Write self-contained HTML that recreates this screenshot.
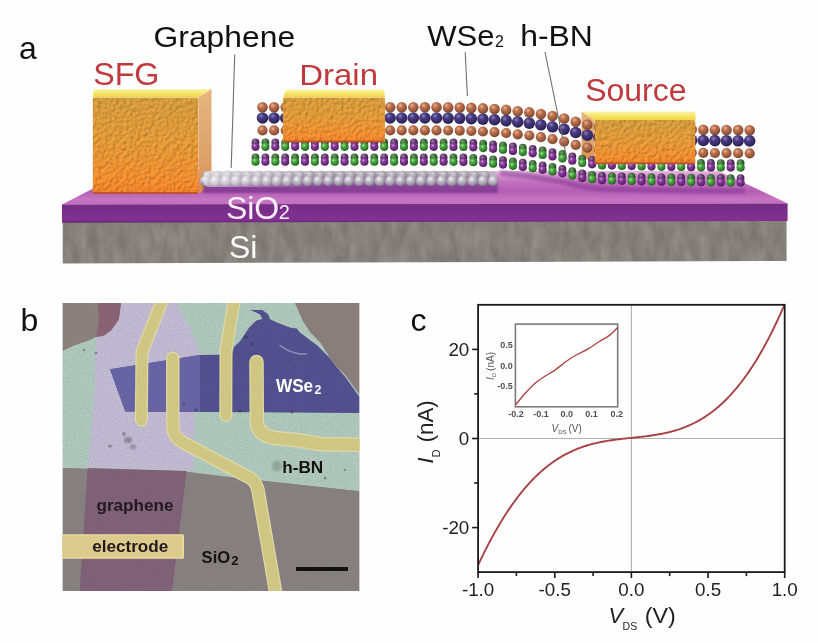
<!DOCTYPE html>
<html><head><meta charset="utf-8"><title>Figure</title>
<style>html,body{margin:0;padding:0;background:#fefefe;} svg{display:block;}</style>
</head><body>
<svg width="818" height="643" viewBox="0 0 818 643">

<defs>
 <radialGradient id="gSe" cx="0.38" cy="0.32" r="0.7">
   <stop offset="0" stop-color="#e8b496"/><stop offset="0.35" stop-color="#bc714e"/><stop offset="0.8" stop-color="#945438"/><stop offset="1" stop-color="#6c3e2a"/>
 </radialGradient>
 <radialGradient id="gSeB" cx="0.38" cy="0.32" r="0.7">
   <stop offset="0" stop-color="#d8a080"/><stop offset="0.4" stop-color="#a8603e"/><stop offset="1" stop-color="#6a3824"/>
 </radialGradient>
 <radialGradient id="gW" cx="0.38" cy="0.32" r="0.7">
   <stop offset="0" stop-color="#8a80bc"/><stop offset="0.35" stop-color="#463a80"/><stop offset="0.8" stop-color="#342864"/><stop offset="1" stop-color="#221842"/>
 </radialGradient>
 <radialGradient id="gWB" cx="0.38" cy="0.32" r="0.7">
   <stop offset="0" stop-color="#6a64a8"/><stop offset="0.5" stop-color="#3c3676"/><stop offset="1" stop-color="#221e48"/>
 </radialGradient>
 <radialGradient id="gG" cx="0.38" cy="0.32" r="0.7">
   <stop offset="0" stop-color="#a8e098"/><stop offset="0.35" stop-color="#4aa840"/><stop offset="0.8" stop-color="#2c7c2a"/><stop offset="1" stop-color="#1a501a"/>
 </radialGradient>
 <radialGradient id="gP" cx="0.38" cy="0.32" r="0.7">
   <stop offset="0" stop-color="#d098d8"/><stop offset="0.35" stop-color="#843a96"/><stop offset="0.8" stop-color="#622676"/><stop offset="1" stop-color="#42184e"/>
 </radialGradient>
 <radialGradient id="gGB" cx="0.38" cy="0.32" r="0.7">
   <stop offset="0" stop-color="#78a070"/><stop offset="0.45" stop-color="#3c7038"/><stop offset="1" stop-color="#1e3e1e"/>
 </radialGradient>
 <radialGradient id="gPB" cx="0.38" cy="0.32" r="0.7">
   <stop offset="0" stop-color="#a080a8"/><stop offset="0.45" stop-color="#62346e"/><stop offset="1" stop-color="#3a1a44"/>
 </radialGradient>
 <radialGradient id="gHB" cx="0.38" cy="0.32" r="0.7">
   <stop offset="0" stop-color="#b0a0b8"/><stop offset="0.5" stop-color="#6a5a74"/><stop offset="1" stop-color="#3e3046"/>
 </radialGradient>
 <radialGradient id="gC" cx="0.38" cy="0.3" r="0.72">
   <stop offset="0" stop-color="#f2f0f4"/><stop offset="0.4" stop-color="#c0bcc6"/><stop offset="0.85" stop-color="#908a9a"/><stop offset="1" stop-color="#6e667a"/>
 </radialGradient>
 <radialGradient id="gCB" cx="0.38" cy="0.3" r="0.72">
   <stop offset="0" stop-color="#d8d2dc"/><stop offset="0.5" stop-color="#aca6b2"/><stop offset="1" stop-color="#847c8c"/>
 </radialGradient>
 <linearGradient id="gWhL" x1="0" y1="0" x2="1" y2="0">
   <stop offset="0" stop-color="#ffffff" stop-opacity="0.5"/><stop offset="1" stop-color="#ffffff" stop-opacity="0"/>
 </linearGradient>
 <linearGradient id="gTop" x1="0" y1="0" x2="0" y2="1">
   <stop offset="0" stop-color="#e6bade"/><stop offset="0.12" stop-color="#d898d0"/><stop offset="0.3" stop-color="#c474be"/><stop offset="0.6" stop-color="#b45eb4"/><stop offset="0.85" stop-color="#c674c2"/><stop offset="1" stop-color="#c26cbe"/>
 </linearGradient>
 <linearGradient id="gFront" x1="0" y1="0" x2="0" y2="1">
   <stop offset="0" stop-color="#722c82"/><stop offset="0.15" stop-color="#762e86"/><stop offset="0.85" stop-color="#823093"/><stop offset="1" stop-color="#62246e"/>
 </linearGradient>
 <linearGradient id="gGold" x1="0" y1="0" x2="0" y2="1">
   <stop offset="0" stop-color="#d29a3e"/><stop offset="0.45" stop-color="#df9838"/><stop offset="0.85" stop-color="#ee8c30"/><stop offset="1" stop-color="#ec8028"/>
 </linearGradient>
 <linearGradient id="gGoldTop" x1="0" y1="0" x2="0" y2="1">
   <stop offset="0" stop-color="#fbf4ae"/><stop offset="0.5" stop-color="#f6e66a"/><stop offset="1" stop-color="#efd242"/>
 </linearGradient>
 <linearGradient id="gSide" x1="0" y1="0" x2="0" y2="1">
   <stop offset="0" stop-color="#e6b680"/><stop offset="0.7" stop-color="#dca06a"/><stop offset="1" stop-color="#e08a3a"/>
 </linearGradient>
 <filter id="fSi" color-interpolation-filters="sRGB" x="0" y="0" width="1" height="1">
   <feTurbulence type="fractalNoise" baseFrequency="0.1 0.04" numOctaves="3" seed="3" result="n"/>
   <feColorMatrix in="n" type="matrix" values="0.15 0 0 0 0.448  0.15 0 0 0 0.428  0.15 0 0 0 0.405  0 0 0 0 1" result="c"/>
   <feComposite in="c" in2="SourceGraphic" operator="atop"/>
 </filter>
 <filter id="fGold" color-interpolation-filters="sRGB" x="0" y="0" width="1" height="1">
   <feTurbulence type="fractalNoise" baseFrequency="0.28" numOctaves="2" seed="7" result="n"/>
   <feDiffuseLighting in="n" surfaceScale="1.8" lighting-color="#fff" result="l"><feDistantLight azimuth="225" elevation="55"/></feDiffuseLighting>
   <feComposite in="l" in2="SourceGraphic" operator="arithmetic" k1="0.38" k2="0" k3="0.7" k4="0" result="m"/>
   <feComposite in="m" in2="SourceGraphic" operator="in"/>
 </filter>
 <filter id="fSpeck" color-interpolation-filters="sRGB" x="0" y="0" width="1" height="1">
   <feTurbulence type="fractalNoise" baseFrequency="0.6" numOctaves="2" seed="11" result="n"/>
   <feColorMatrix in="n" type="matrix" values="0 0 0 0 0.45  0 0 0 0 0.45  0 0 0 0 0.45  0.5 0 0 0 -0.22" result="c"/>
   <feComposite in="c" in2="SourceGraphic" operator="atop"/>
 </filter>
 <filter id="blur1" color-interpolation-filters="sRGB"><feGaussianBlur stdDeviation="0.6"/></filter>
 <filter id="blur2" color-interpolation-filters="sRGB"><feGaussianBlur stdDeviation="1.2"/></filter>
</defs>

<rect width="818" height="643" fill="#fefefe"/>
<polygon points="62.7,222 786.6,220.3 786.6,261 62.7,263.4" fill="#88827c" filter="url(#fSi)"/>
<polygon points="62,204.2 787.6,203.2 787.6,221 62,222.7" fill="url(#gFront)"/>
<polygon points="62,204.5 127,171 719,171 787.8,203.5" fill="url(#gTop)"/>
<polygon points="92.6,97.5 198.5,97.5 211.5,89.0 94.1,89.0" fill="url(#gGoldTop)"/>
<polygon points="198.5,97.5 211.5,89.0 211.5,183.5 198.5,194" fill="url(#gSide)"/>
<polygon points="283,97.5 385,97.5 384,89.5 286,89.5" fill="url(#gGoldTop)"/>
<polygon points="594.5,120 581.5,111.5 581.5,155.8 594.5,164.3" fill="url(#gSide)"/>
<polygon points="203,184 498,184 498,193 203,193" fill="#6a2a82" filter="url(#blur2)" opacity="0.6"/>
<rect x="207" y="171.5" width="289" height="8" rx="4" fill="#bcb6c2"/>
<circle cx="207.0" cy="175.6" r="4.9" fill="url(#gCB)"/>
<circle cx="217.3" cy="175.6" r="4.9" fill="url(#gCB)"/>
<circle cx="227.6" cy="175.6" r="4.9" fill="url(#gCB)"/>
<circle cx="237.9" cy="175.6" r="4.9" fill="url(#gCB)"/>
<circle cx="248.2" cy="175.6" r="4.9" fill="url(#gCB)"/>
<circle cx="258.5" cy="175.6" r="4.9" fill="url(#gCB)"/>
<circle cx="268.8" cy="175.6" r="4.9" fill="url(#gCB)"/>
<circle cx="279.1" cy="175.6" r="4.9" fill="url(#gCB)"/>
<circle cx="289.4" cy="175.6" r="4.9" fill="url(#gCB)"/>
<circle cx="299.7" cy="175.6" r="4.9" fill="url(#gCB)"/>
<circle cx="310.0" cy="175.6" r="4.9" fill="url(#gCB)"/>
<circle cx="320.3" cy="175.6" r="4.9" fill="url(#gCB)"/>
<circle cx="330.6" cy="175.6" r="4.9" fill="url(#gCB)"/>
<circle cx="340.9" cy="175.6" r="4.9" fill="url(#gCB)"/>
<circle cx="351.2" cy="175.6" r="4.9" fill="url(#gCB)"/>
<circle cx="361.5" cy="175.6" r="4.9" fill="url(#gCB)"/>
<circle cx="371.8" cy="175.6" r="4.9" fill="url(#gCB)"/>
<circle cx="382.1" cy="175.6" r="4.9" fill="url(#gCB)"/>
<circle cx="392.4" cy="175.6" r="4.9" fill="url(#gCB)"/>
<circle cx="402.7" cy="175.6" r="4.9" fill="url(#gCB)"/>
<circle cx="413.0" cy="175.6" r="4.9" fill="url(#gCB)"/>
<circle cx="423.3" cy="175.6" r="4.9" fill="url(#gCB)"/>
<circle cx="433.6" cy="175.6" r="4.9" fill="url(#gCB)"/>
<circle cx="443.9" cy="175.6" r="4.9" fill="url(#gCB)"/>
<circle cx="454.2" cy="175.6" r="4.9" fill="url(#gCB)"/>
<circle cx="464.5" cy="175.6" r="4.9" fill="url(#gCB)"/>
<circle cx="474.8" cy="175.6" r="4.9" fill="url(#gCB)"/>
<circle cx="485.1" cy="175.6" r="4.9" fill="url(#gCB)"/>
<circle cx="205.0" cy="181.0" r="5.2" fill="url(#gC)"/>
<circle cx="215.3" cy="181.0" r="5.2" fill="url(#gC)"/>
<circle cx="225.6" cy="181.0" r="5.2" fill="url(#gC)"/>
<circle cx="235.9" cy="181.0" r="5.2" fill="url(#gC)"/>
<circle cx="246.2" cy="181.0" r="5.2" fill="url(#gC)"/>
<circle cx="256.5" cy="181.0" r="5.2" fill="url(#gC)"/>
<circle cx="266.8" cy="181.0" r="5.2" fill="url(#gC)"/>
<circle cx="277.1" cy="181.0" r="5.2" fill="url(#gC)"/>
<circle cx="287.4" cy="181.0" r="5.2" fill="url(#gC)"/>
<circle cx="297.7" cy="181.0" r="5.2" fill="url(#gC)"/>
<circle cx="308.0" cy="181.0" r="5.2" fill="url(#gC)"/>
<circle cx="318.3" cy="181.0" r="5.2" fill="url(#gC)"/>
<circle cx="328.6" cy="181.0" r="5.2" fill="url(#gC)"/>
<circle cx="338.9" cy="181.0" r="5.2" fill="url(#gC)"/>
<circle cx="349.2" cy="181.0" r="5.2" fill="url(#gC)"/>
<circle cx="359.5" cy="181.0" r="5.2" fill="url(#gC)"/>
<circle cx="369.8" cy="181.0" r="5.2" fill="url(#gC)"/>
<circle cx="380.1" cy="181.0" r="5.2" fill="url(#gC)"/>
<circle cx="390.4" cy="181.0" r="5.2" fill="url(#gC)"/>
<circle cx="400.7" cy="181.0" r="5.2" fill="url(#gC)"/>
<circle cx="411.0" cy="181.0" r="5.2" fill="url(#gC)"/>
<circle cx="421.3" cy="181.0" r="5.2" fill="url(#gC)"/>
<circle cx="431.6" cy="181.0" r="5.2" fill="url(#gC)"/>
<circle cx="441.9" cy="181.0" r="5.2" fill="url(#gC)"/>
<circle cx="452.2" cy="181.0" r="5.2" fill="url(#gC)"/>
<circle cx="462.5" cy="181.0" r="5.2" fill="url(#gC)"/>
<circle cx="472.8" cy="181.0" r="5.2" fill="url(#gC)"/>
<circle cx="483.1" cy="181.0" r="5.2" fill="url(#gC)"/>
<circle cx="493.4" cy="181.0" r="5.2" fill="url(#gC)"/>
<rect x="204" y="171" width="116" height="16" rx="5" fill="url(#gWhL)"/>
<polygon points="500.0,169.7 505.0,170.3 510.0,170.9 515.0,171.5 520.0,172.1 525.0,172.7 530.0,173.3 535.0,174.0 540.0,174.9 545.0,175.7 550.0,176.5 555.0,177.4 560.0,178.2 565.0,179.4 570.0,180.6 575.0,181.8 580.0,183.0 585.0,183.7 590.0,184.4 595.0,185.0 600.0,185.7 605.0,185.8 610.0,186.0 615.0,186.1 620.0,186.2 625.0,186.3 630.0,186.5 635.0,186.6 640.0,186.7 645.0,186.9 650.0,187.0 655.0,187.1 660.0,187.1 665.0,187.2 670.0,187.3 675.0,187.3 680.0,187.4 685.0,187.5 690.0,187.6 695.0,187.6 700.0,187.7 705.0,187.7 710.0,187.8 715.0,187.8 720.0,187.9 725.0,187.9 730.0,187.9 735.0,188.0 740.0,188.0 745.0,188.1 745.0,194.1 740.0,194.0 735.0,194.0 730.0,193.9 725.0,193.9 720.0,193.9 715.0,193.8 710.0,193.8 705.0,193.7 700.0,193.7 695.0,193.6 690.0,193.6 685.0,193.5 680.0,193.4 675.0,193.3 670.0,193.3 665.0,193.2 660.0,193.1 655.0,193.1 650.0,193.0 645.0,192.9 640.0,192.7 635.0,192.6 630.0,192.5 625.0,192.3 620.0,192.2 615.0,192.1 610.0,192.0 605.0,191.8 600.0,191.7 595.0,191.0 590.0,190.4 585.0,189.7 580.0,189.0 575.0,187.8 570.0,186.6 565.0,185.4 560.0,184.2 555.0,183.4 550.0,182.5 545.0,181.7 540.0,180.9 535.0,180.0 530.0,179.3 525.0,178.7 520.0,178.1 515.0,177.5 510.0,176.9 505.0,176.3 500.0,175.7" fill="#7a2e8e" opacity="0.45" filter="url(#blur2)"/>
<circle cx="255.5" cy="142.4" r="3.9" fill="url(#gPB)"/>
<circle cx="265.4" cy="142.4" r="3.9" fill="url(#gGB)"/>
<circle cx="275.3" cy="142.4" r="3.9" fill="url(#gPB)"/>
<circle cx="285.2" cy="142.4" r="3.9" fill="url(#gGB)"/>
<circle cx="295.1" cy="142.4" r="3.9" fill="url(#gPB)"/>
<circle cx="305.0" cy="142.4" r="3.9" fill="url(#gGB)"/>
<circle cx="314.9" cy="142.4" r="3.9" fill="url(#gPB)"/>
<circle cx="324.8" cy="142.4" r="3.9" fill="url(#gGB)"/>
<circle cx="334.7" cy="142.4" r="3.9" fill="url(#gPB)"/>
<circle cx="344.6" cy="142.4" r="3.9" fill="url(#gGB)"/>
<circle cx="354.5" cy="142.4" r="3.9" fill="url(#gPB)"/>
<circle cx="364.4" cy="142.4" r="3.9" fill="url(#gGB)"/>
<circle cx="374.3" cy="142.4" r="3.9" fill="url(#gPB)"/>
<circle cx="384.2" cy="142.4" r="3.9" fill="url(#gGB)"/>
<circle cx="394.1" cy="142.4" r="3.9" fill="url(#gPB)"/>
<circle cx="404.0" cy="142.4" r="3.9" fill="url(#gGB)"/>
<circle cx="413.9" cy="142.4" r="3.9" fill="url(#gPB)"/>
<circle cx="423.8" cy="142.4" r="3.9" fill="url(#gGB)"/>
<circle cx="433.7" cy="142.4" r="3.9" fill="url(#gPB)"/>
<circle cx="443.6" cy="142.4" r="3.9" fill="url(#gGB)"/>
<circle cx="453.5" cy="142.5" r="3.9" fill="url(#gPB)"/>
<circle cx="463.4" cy="142.6" r="3.9" fill="url(#gGB)"/>
<circle cx="473.3" cy="142.9" r="3.9" fill="url(#gPB)"/>
<circle cx="483.2" cy="143.7" r="3.9" fill="url(#gGB)"/>
<circle cx="493.1" cy="144.4" r="3.9" fill="url(#gPB)"/>
<circle cx="503.0" cy="145.3" r="3.9" fill="url(#gGB)"/>
<circle cx="512.9" cy="146.5" r="3.9" fill="url(#gPB)"/>
<circle cx="522.8" cy="147.7" r="3.9" fill="url(#gGB)"/>
<circle cx="532.7" cy="148.9" r="3.9" fill="url(#gPB)"/>
<circle cx="542.6" cy="150.5" r="3.9" fill="url(#gGB)"/>
<circle cx="552.5" cy="152.1" r="3.9" fill="url(#gPB)"/>
<circle cx="562.4" cy="154.0" r="3.9" fill="url(#gGB)"/>
<circle cx="572.3" cy="156.3" r="3.9" fill="url(#gPB)"/>
<circle cx="582.2" cy="158.6" r="3.9" fill="url(#gGB)"/>
<circle cx="592.1" cy="159.9" r="3.9" fill="url(#gPB)"/>
<circle cx="602.0" cy="161.0" r="3.9" fill="url(#gGB)"/>
<circle cx="611.9" cy="161.2" r="3.9" fill="url(#gPB)"/>
<circle cx="621.8" cy="161.5" r="3.9" fill="url(#gGB)"/>
<circle cx="631.7" cy="161.7" r="3.9" fill="url(#gPB)"/>
<circle cx="641.6" cy="162.0" r="3.9" fill="url(#gGB)"/>
<circle cx="651.5" cy="162.2" r="3.9" fill="url(#gPB)"/>
<circle cx="661.4" cy="162.4" r="3.9" fill="url(#gGB)"/>
<circle cx="671.3" cy="162.5" r="3.9" fill="url(#gPB)"/>
<circle cx="681.2" cy="162.6" r="3.9" fill="url(#gGB)"/>
<circle cx="691.1" cy="162.8" r="3.9" fill="url(#gPB)"/>
<circle cx="701.0" cy="162.9" r="3.9" fill="url(#gGB)"/>
<circle cx="710.9" cy="163.0" r="3.9" fill="url(#gPB)"/>
<circle cx="720.8" cy="163.1" r="3.9" fill="url(#gGB)"/>
<circle cx="730.7" cy="163.2" r="3.9" fill="url(#gPB)"/>
<circle cx="740.6" cy="163.2" r="3.9" fill="url(#gGB)"/>
<circle cx="255.5" cy="146.8" r="4.1" fill="url(#gP)"/>
<circle cx="265.4" cy="146.8" r="4.1" fill="url(#gG)"/>
<circle cx="275.3" cy="146.8" r="4.1" fill="url(#gP)"/>
<circle cx="285.2" cy="146.8" r="4.1" fill="url(#gG)"/>
<circle cx="295.1" cy="146.8" r="4.1" fill="url(#gP)"/>
<circle cx="305.0" cy="146.8" r="4.1" fill="url(#gG)"/>
<circle cx="314.9" cy="146.8" r="4.1" fill="url(#gP)"/>
<circle cx="324.8" cy="146.8" r="4.1" fill="url(#gG)"/>
<circle cx="334.7" cy="146.8" r="4.1" fill="url(#gP)"/>
<circle cx="344.6" cy="146.8" r="4.1" fill="url(#gG)"/>
<circle cx="354.5" cy="146.8" r="4.1" fill="url(#gP)"/>
<circle cx="364.4" cy="146.8" r="4.1" fill="url(#gG)"/>
<circle cx="374.3" cy="146.8" r="4.1" fill="url(#gP)"/>
<circle cx="384.2" cy="146.8" r="4.1" fill="url(#gG)"/>
<circle cx="394.1" cy="146.8" r="4.1" fill="url(#gP)"/>
<circle cx="404.0" cy="146.8" r="4.1" fill="url(#gG)"/>
<circle cx="413.9" cy="146.8" r="4.1" fill="url(#gP)"/>
<circle cx="423.8" cy="146.8" r="4.1" fill="url(#gG)"/>
<circle cx="433.7" cy="146.8" r="4.1" fill="url(#gP)"/>
<circle cx="443.6" cy="146.8" r="4.1" fill="url(#gG)"/>
<circle cx="453.5" cy="146.9" r="4.1" fill="url(#gP)"/>
<circle cx="463.4" cy="147.0" r="4.1" fill="url(#gG)"/>
<circle cx="473.3" cy="147.3" r="4.1" fill="url(#gP)"/>
<circle cx="483.2" cy="148.1" r="4.1" fill="url(#gG)"/>
<circle cx="493.1" cy="148.8" r="4.1" fill="url(#gP)"/>
<circle cx="503.0" cy="149.7" r="4.1" fill="url(#gG)"/>
<circle cx="512.9" cy="150.9" r="4.1" fill="url(#gP)"/>
<circle cx="522.8" cy="152.1" r="4.1" fill="url(#gG)"/>
<circle cx="532.7" cy="153.3" r="4.1" fill="url(#gP)"/>
<circle cx="542.6" cy="154.9" r="4.1" fill="url(#gG)"/>
<circle cx="552.5" cy="156.5" r="4.1" fill="url(#gP)"/>
<circle cx="562.4" cy="158.4" r="4.1" fill="url(#gG)"/>
<circle cx="572.3" cy="160.7" r="4.1" fill="url(#gP)"/>
<circle cx="582.2" cy="163.0" r="4.1" fill="url(#gG)"/>
<circle cx="592.1" cy="164.3" r="4.1" fill="url(#gP)"/>
<circle cx="602.0" cy="165.4" r="4.1" fill="url(#gG)"/>
<circle cx="611.9" cy="165.6" r="4.1" fill="url(#gP)"/>
<circle cx="621.8" cy="165.9" r="4.1" fill="url(#gG)"/>
<circle cx="631.7" cy="166.1" r="4.1" fill="url(#gP)"/>
<circle cx="641.6" cy="166.4" r="4.1" fill="url(#gG)"/>
<circle cx="651.5" cy="166.6" r="4.1" fill="url(#gP)"/>
<circle cx="661.4" cy="166.8" r="4.1" fill="url(#gG)"/>
<circle cx="671.3" cy="166.9" r="4.1" fill="url(#gP)"/>
<circle cx="681.2" cy="167.0" r="4.1" fill="url(#gG)"/>
<circle cx="691.1" cy="167.2" r="4.1" fill="url(#gP)"/>
<circle cx="701.0" cy="167.3" r="4.1" fill="url(#gG)"/>
<circle cx="710.9" cy="167.4" r="4.1" fill="url(#gP)"/>
<circle cx="720.8" cy="167.5" r="4.1" fill="url(#gG)"/>
<circle cx="730.7" cy="167.6" r="4.1" fill="url(#gP)"/>
<circle cx="740.6" cy="167.6" r="4.1" fill="url(#gG)"/>
<circle cx="255.5" cy="157.3" r="3.9" fill="url(#gGB)"/>
<circle cx="265.4" cy="157.3" r="3.9" fill="url(#gPB)"/>
<circle cx="275.3" cy="157.3" r="3.9" fill="url(#gGB)"/>
<circle cx="285.2" cy="157.3" r="3.9" fill="url(#gPB)"/>
<circle cx="295.1" cy="157.3" r="3.9" fill="url(#gGB)"/>
<circle cx="305.0" cy="157.3" r="3.9" fill="url(#gPB)"/>
<circle cx="314.9" cy="157.3" r="3.9" fill="url(#gGB)"/>
<circle cx="324.8" cy="157.3" r="3.9" fill="url(#gPB)"/>
<circle cx="334.7" cy="157.3" r="3.9" fill="url(#gGB)"/>
<circle cx="344.6" cy="157.3" r="3.9" fill="url(#gPB)"/>
<circle cx="354.5" cy="157.3" r="3.9" fill="url(#gGB)"/>
<circle cx="364.4" cy="157.3" r="3.9" fill="url(#gPB)"/>
<circle cx="374.3" cy="157.3" r="3.9" fill="url(#gGB)"/>
<circle cx="384.2" cy="157.3" r="3.9" fill="url(#gPB)"/>
<circle cx="394.1" cy="157.3" r="3.9" fill="url(#gGB)"/>
<circle cx="404.0" cy="157.3" r="3.9" fill="url(#gPB)"/>
<circle cx="413.9" cy="157.3" r="3.9" fill="url(#gGB)"/>
<circle cx="423.8" cy="157.3" r="3.9" fill="url(#gPB)"/>
<circle cx="433.7" cy="157.3" r="3.9" fill="url(#gGB)"/>
<circle cx="443.6" cy="157.3" r="3.9" fill="url(#gPB)"/>
<circle cx="453.5" cy="157.4" r="3.9" fill="url(#gGB)"/>
<circle cx="463.4" cy="157.5" r="3.9" fill="url(#gPB)"/>
<circle cx="473.3" cy="157.8" r="3.9" fill="url(#gGB)"/>
<circle cx="483.2" cy="158.6" r="3.9" fill="url(#gPB)"/>
<circle cx="493.1" cy="159.3" r="3.9" fill="url(#gGB)"/>
<circle cx="503.0" cy="160.2" r="3.9" fill="url(#gPB)"/>
<circle cx="512.9" cy="161.4" r="3.9" fill="url(#gGB)"/>
<circle cx="522.8" cy="162.6" r="3.9" fill="url(#gPB)"/>
<circle cx="532.7" cy="163.8" r="3.9" fill="url(#gGB)"/>
<circle cx="542.6" cy="165.4" r="3.9" fill="url(#gPB)"/>
<circle cx="552.5" cy="167.0" r="3.9" fill="url(#gGB)"/>
<circle cx="562.4" cy="168.9" r="3.9" fill="url(#gPB)"/>
<circle cx="572.3" cy="171.2" r="3.9" fill="url(#gGB)"/>
<circle cx="582.2" cy="173.5" r="3.9" fill="url(#gPB)"/>
<circle cx="592.1" cy="174.8" r="3.9" fill="url(#gGB)"/>
<circle cx="602.0" cy="175.9" r="3.9" fill="url(#gPB)"/>
<circle cx="611.9" cy="176.1" r="3.9" fill="url(#gGB)"/>
<circle cx="621.8" cy="176.4" r="3.9" fill="url(#gPB)"/>
<circle cx="631.7" cy="176.6" r="3.9" fill="url(#gGB)"/>
<circle cx="641.6" cy="176.9" r="3.9" fill="url(#gPB)"/>
<circle cx="651.5" cy="177.1" r="3.9" fill="url(#gGB)"/>
<circle cx="661.4" cy="177.3" r="3.9" fill="url(#gPB)"/>
<circle cx="671.3" cy="177.4" r="3.9" fill="url(#gGB)"/>
<circle cx="681.2" cy="177.5" r="3.9" fill="url(#gPB)"/>
<circle cx="691.1" cy="177.7" r="3.9" fill="url(#gGB)"/>
<circle cx="701.0" cy="177.8" r="3.9" fill="url(#gPB)"/>
<circle cx="710.9" cy="177.9" r="3.9" fill="url(#gGB)"/>
<circle cx="720.8" cy="178.0" r="3.9" fill="url(#gPB)"/>
<circle cx="730.7" cy="178.1" r="3.9" fill="url(#gGB)"/>
<circle cx="740.6" cy="178.1" r="3.9" fill="url(#gPB)"/>
<circle cx="255.5" cy="161.7" r="4.1" fill="url(#gG)"/>
<circle cx="265.4" cy="161.7" r="4.1" fill="url(#gP)"/>
<circle cx="275.3" cy="161.7" r="4.1" fill="url(#gG)"/>
<circle cx="285.2" cy="161.7" r="4.1" fill="url(#gP)"/>
<circle cx="295.1" cy="161.7" r="4.1" fill="url(#gG)"/>
<circle cx="305.0" cy="161.7" r="4.1" fill="url(#gP)"/>
<circle cx="314.9" cy="161.7" r="4.1" fill="url(#gG)"/>
<circle cx="324.8" cy="161.7" r="4.1" fill="url(#gP)"/>
<circle cx="334.7" cy="161.7" r="4.1" fill="url(#gG)"/>
<circle cx="344.6" cy="161.7" r="4.1" fill="url(#gP)"/>
<circle cx="354.5" cy="161.7" r="4.1" fill="url(#gG)"/>
<circle cx="364.4" cy="161.7" r="4.1" fill="url(#gP)"/>
<circle cx="374.3" cy="161.7" r="4.1" fill="url(#gG)"/>
<circle cx="384.2" cy="161.7" r="4.1" fill="url(#gP)"/>
<circle cx="394.1" cy="161.7" r="4.1" fill="url(#gG)"/>
<circle cx="404.0" cy="161.7" r="4.1" fill="url(#gP)"/>
<circle cx="413.9" cy="161.7" r="4.1" fill="url(#gG)"/>
<circle cx="423.8" cy="161.7" r="4.1" fill="url(#gP)"/>
<circle cx="433.7" cy="161.7" r="4.1" fill="url(#gG)"/>
<circle cx="443.6" cy="161.7" r="4.1" fill="url(#gP)"/>
<circle cx="453.5" cy="161.8" r="4.1" fill="url(#gG)"/>
<circle cx="463.4" cy="161.9" r="4.1" fill="url(#gP)"/>
<circle cx="473.3" cy="162.2" r="4.1" fill="url(#gG)"/>
<circle cx="483.2" cy="163.0" r="4.1" fill="url(#gP)"/>
<circle cx="493.1" cy="163.7" r="4.1" fill="url(#gG)"/>
<circle cx="503.0" cy="164.6" r="4.1" fill="url(#gP)"/>
<circle cx="512.9" cy="165.8" r="4.1" fill="url(#gG)"/>
<circle cx="522.8" cy="167.0" r="4.1" fill="url(#gP)"/>
<circle cx="532.7" cy="168.2" r="4.1" fill="url(#gG)"/>
<circle cx="542.6" cy="169.8" r="4.1" fill="url(#gP)"/>
<circle cx="552.5" cy="171.4" r="4.1" fill="url(#gG)"/>
<circle cx="562.4" cy="173.3" r="4.1" fill="url(#gP)"/>
<circle cx="572.3" cy="175.6" r="4.1" fill="url(#gG)"/>
<circle cx="582.2" cy="177.9" r="4.1" fill="url(#gP)"/>
<circle cx="592.1" cy="179.2" r="4.1" fill="url(#gG)"/>
<circle cx="602.0" cy="180.3" r="4.1" fill="url(#gP)"/>
<circle cx="611.9" cy="180.5" r="4.1" fill="url(#gG)"/>
<circle cx="621.8" cy="180.8" r="4.1" fill="url(#gP)"/>
<circle cx="631.7" cy="181.0" r="4.1" fill="url(#gG)"/>
<circle cx="641.6" cy="181.3" r="4.1" fill="url(#gP)"/>
<circle cx="651.5" cy="181.5" r="4.1" fill="url(#gG)"/>
<circle cx="661.4" cy="181.7" r="4.1" fill="url(#gP)"/>
<circle cx="671.3" cy="181.8" r="4.1" fill="url(#gG)"/>
<circle cx="681.2" cy="181.9" r="4.1" fill="url(#gP)"/>
<circle cx="691.1" cy="182.1" r="4.1" fill="url(#gG)"/>
<circle cx="701.0" cy="182.2" r="4.1" fill="url(#gP)"/>
<circle cx="710.9" cy="182.3" r="4.1" fill="url(#gG)"/>
<circle cx="720.8" cy="182.4" r="4.1" fill="url(#gP)"/>
<circle cx="730.7" cy="182.5" r="4.1" fill="url(#gG)"/>
<circle cx="740.6" cy="182.5" r="4.1" fill="url(#gP)"/>
<circle cx="262.5" cy="130.4" r="5.1" fill="url(#gSe)"/>
<circle cx="274.1" cy="130.4" r="5.1" fill="url(#gSe)"/>
<circle cx="285.7" cy="130.4" r="5.1" fill="url(#gSe)"/>
<circle cx="297.3" cy="130.4" r="5.1" fill="url(#gSe)"/>
<circle cx="308.9" cy="130.4" r="5.1" fill="url(#gSe)"/>
<circle cx="320.5" cy="130.4" r="5.1" fill="url(#gSe)"/>
<circle cx="332.1" cy="130.4" r="5.1" fill="url(#gSe)"/>
<circle cx="343.7" cy="130.4" r="5.1" fill="url(#gSe)"/>
<circle cx="355.3" cy="130.4" r="5.1" fill="url(#gSe)"/>
<circle cx="366.9" cy="130.4" r="5.1" fill="url(#gSe)"/>
<circle cx="378.5" cy="130.4" r="5.1" fill="url(#gSe)"/>
<circle cx="390.1" cy="130.4" r="5.1" fill="url(#gSe)"/>
<circle cx="401.7" cy="130.4" r="5.1" fill="url(#gSe)"/>
<circle cx="413.3" cy="130.4" r="5.1" fill="url(#gSe)"/>
<circle cx="424.9" cy="130.4" r="5.1" fill="url(#gSe)"/>
<circle cx="436.5" cy="130.4" r="5.1" fill="url(#gSe)"/>
<circle cx="448.1" cy="130.5" r="5.1" fill="url(#gSe)"/>
<circle cx="459.7" cy="130.7" r="5.1" fill="url(#gSe)"/>
<circle cx="471.3" cy="131.0" r="5.1" fill="url(#gSe)"/>
<circle cx="482.9" cy="131.5" r="5.1" fill="url(#gSe)"/>
<circle cx="494.5" cy="132.1" r="5.1" fill="url(#gSe)"/>
<circle cx="506.1" cy="133.0" r="5.1" fill="url(#gSe)"/>
<circle cx="517.7" cy="134.3" r="5.1" fill="url(#gSe)"/>
<circle cx="529.3" cy="135.5" r="5.1" fill="url(#gSe)"/>
<circle cx="540.9" cy="137.2" r="5.1" fill="url(#gSe)"/>
<circle cx="552.5" cy="139.2" r="5.1" fill="url(#gSe)"/>
<circle cx="564.1" cy="141.6" r="5.1" fill="url(#gSe)"/>
<circle cx="575.7" cy="144.9" r="5.1" fill="url(#gSe)"/>
<circle cx="587.3" cy="147.6" r="5.1" fill="url(#gSe)"/>
<circle cx="598.9" cy="149.7" r="5.1" fill="url(#gSe)"/>
<circle cx="610.5" cy="150.3" r="5.1" fill="url(#gSe)"/>
<circle cx="622.1" cy="150.8" r="5.1" fill="url(#gSe)"/>
<circle cx="633.7" cy="151.2" r="5.1" fill="url(#gSe)"/>
<circle cx="645.3" cy="151.7" r="5.1" fill="url(#gSe)"/>
<circle cx="656.9" cy="152.0" r="5.1" fill="url(#gSe)"/>
<circle cx="668.5" cy="152.3" r="5.1" fill="url(#gSe)"/>
<circle cx="680.1" cy="152.5" r="5.1" fill="url(#gSe)"/>
<circle cx="691.7" cy="152.7" r="5.1" fill="url(#gSe)"/>
<circle cx="703.3" cy="152.9" r="5.1" fill="url(#gSe)"/>
<circle cx="714.9" cy="153.0" r="5.1" fill="url(#gSe)"/>
<circle cx="726.5" cy="153.1" r="5.1" fill="url(#gSe)"/>
<circle cx="738.1" cy="153.2" r="5.1" fill="url(#gSe)"/>
<circle cx="749.7" cy="153.3" r="5.1" fill="url(#gSe)"/>
<circle cx="262.5" cy="118.0" r="5.8" fill="url(#gW)"/>
<circle cx="274.1" cy="118.0" r="5.8" fill="url(#gW)"/>
<circle cx="285.7" cy="118.0" r="5.8" fill="url(#gW)"/>
<circle cx="297.3" cy="118.0" r="5.8" fill="url(#gW)"/>
<circle cx="308.9" cy="118.0" r="5.8" fill="url(#gW)"/>
<circle cx="320.5" cy="118.0" r="5.8" fill="url(#gW)"/>
<circle cx="332.1" cy="118.0" r="5.8" fill="url(#gW)"/>
<circle cx="343.7" cy="118.0" r="5.8" fill="url(#gW)"/>
<circle cx="355.3" cy="118.0" r="5.8" fill="url(#gW)"/>
<circle cx="366.9" cy="118.0" r="5.8" fill="url(#gW)"/>
<circle cx="378.5" cy="118.0" r="5.8" fill="url(#gW)"/>
<circle cx="390.1" cy="118.0" r="5.8" fill="url(#gW)"/>
<circle cx="401.7" cy="118.0" r="5.8" fill="url(#gW)"/>
<circle cx="413.3" cy="118.0" r="5.8" fill="url(#gW)"/>
<circle cx="424.9" cy="118.0" r="5.8" fill="url(#gW)"/>
<circle cx="436.5" cy="118.0" r="5.8" fill="url(#gW)"/>
<circle cx="448.1" cy="118.1" r="5.8" fill="url(#gW)"/>
<circle cx="459.7" cy="118.3" r="5.8" fill="url(#gW)"/>
<circle cx="471.3" cy="118.6" r="5.8" fill="url(#gW)"/>
<circle cx="482.9" cy="119.1" r="5.8" fill="url(#gW)"/>
<circle cx="494.5" cy="119.7" r="5.8" fill="url(#gW)"/>
<circle cx="506.1" cy="120.6" r="5.8" fill="url(#gW)"/>
<circle cx="517.7" cy="121.9" r="5.8" fill="url(#gW)"/>
<circle cx="529.3" cy="123.1" r="5.8" fill="url(#gW)"/>
<circle cx="540.9" cy="124.8" r="5.8" fill="url(#gW)"/>
<circle cx="552.5" cy="126.8" r="5.8" fill="url(#gW)"/>
<circle cx="564.1" cy="129.2" r="5.8" fill="url(#gW)"/>
<circle cx="575.7" cy="132.5" r="5.8" fill="url(#gW)"/>
<circle cx="587.3" cy="135.2" r="5.8" fill="url(#gW)"/>
<circle cx="598.9" cy="137.3" r="5.8" fill="url(#gW)"/>
<circle cx="610.5" cy="137.9" r="5.8" fill="url(#gW)"/>
<circle cx="622.1" cy="138.4" r="5.8" fill="url(#gW)"/>
<circle cx="633.7" cy="138.8" r="5.8" fill="url(#gW)"/>
<circle cx="645.3" cy="139.3" r="5.8" fill="url(#gW)"/>
<circle cx="656.9" cy="139.6" r="5.8" fill="url(#gW)"/>
<circle cx="668.5" cy="139.9" r="5.8" fill="url(#gW)"/>
<circle cx="680.1" cy="140.1" r="5.8" fill="url(#gW)"/>
<circle cx="691.7" cy="140.3" r="5.8" fill="url(#gW)"/>
<circle cx="703.3" cy="140.5" r="5.8" fill="url(#gW)"/>
<circle cx="714.9" cy="140.6" r="5.8" fill="url(#gW)"/>
<circle cx="726.5" cy="140.7" r="5.8" fill="url(#gW)"/>
<circle cx="738.1" cy="140.8" r="5.8" fill="url(#gW)"/>
<circle cx="749.7" cy="140.9" r="5.8" fill="url(#gW)"/>
<circle cx="262.5" cy="107.3" r="5.3" fill="url(#gSe)"/>
<circle cx="274.1" cy="107.3" r="5.3" fill="url(#gSe)"/>
<circle cx="285.7" cy="107.3" r="5.3" fill="url(#gSe)"/>
<circle cx="297.3" cy="107.3" r="5.3" fill="url(#gSe)"/>
<circle cx="308.9" cy="107.3" r="5.3" fill="url(#gSe)"/>
<circle cx="320.5" cy="107.3" r="5.3" fill="url(#gSe)"/>
<circle cx="332.1" cy="107.3" r="5.3" fill="url(#gSe)"/>
<circle cx="343.7" cy="107.3" r="5.3" fill="url(#gSe)"/>
<circle cx="355.3" cy="107.3" r="5.3" fill="url(#gSe)"/>
<circle cx="366.9" cy="107.3" r="5.3" fill="url(#gSe)"/>
<circle cx="378.5" cy="107.3" r="5.3" fill="url(#gSe)"/>
<circle cx="390.1" cy="107.3" r="5.3" fill="url(#gSe)"/>
<circle cx="401.7" cy="107.3" r="5.3" fill="url(#gSe)"/>
<circle cx="413.3" cy="107.3" r="5.3" fill="url(#gSe)"/>
<circle cx="424.9" cy="107.3" r="5.3" fill="url(#gSe)"/>
<circle cx="436.5" cy="107.3" r="5.3" fill="url(#gSe)"/>
<circle cx="448.1" cy="107.4" r="5.3" fill="url(#gSe)"/>
<circle cx="459.7" cy="107.6" r="5.3" fill="url(#gSe)"/>
<circle cx="471.3" cy="107.9" r="5.3" fill="url(#gSe)"/>
<circle cx="482.9" cy="108.4" r="5.3" fill="url(#gSe)"/>
<circle cx="494.5" cy="109.0" r="5.3" fill="url(#gSe)"/>
<circle cx="506.1" cy="109.9" r="5.3" fill="url(#gSe)"/>
<circle cx="517.7" cy="111.2" r="5.3" fill="url(#gSe)"/>
<circle cx="529.3" cy="112.4" r="5.3" fill="url(#gSe)"/>
<circle cx="540.9" cy="114.1" r="5.3" fill="url(#gSe)"/>
<circle cx="552.5" cy="116.1" r="5.3" fill="url(#gSe)"/>
<circle cx="564.1" cy="118.5" r="5.3" fill="url(#gSe)"/>
<circle cx="575.7" cy="121.8" r="5.3" fill="url(#gSe)"/>
<circle cx="587.3" cy="124.5" r="5.3" fill="url(#gSe)"/>
<circle cx="598.9" cy="126.6" r="5.3" fill="url(#gSe)"/>
<circle cx="610.5" cy="127.2" r="5.3" fill="url(#gSe)"/>
<circle cx="622.1" cy="127.7" r="5.3" fill="url(#gSe)"/>
<circle cx="633.7" cy="128.1" r="5.3" fill="url(#gSe)"/>
<circle cx="645.3" cy="128.6" r="5.3" fill="url(#gSe)"/>
<circle cx="656.9" cy="128.9" r="5.3" fill="url(#gSe)"/>
<circle cx="668.5" cy="129.2" r="5.3" fill="url(#gSe)"/>
<circle cx="680.1" cy="129.4" r="5.3" fill="url(#gSe)"/>
<circle cx="691.7" cy="129.6" r="5.3" fill="url(#gSe)"/>
<circle cx="703.3" cy="129.8" r="5.3" fill="url(#gSe)"/>
<circle cx="714.9" cy="129.9" r="5.3" fill="url(#gSe)"/>
<circle cx="726.5" cy="130.0" r="5.3" fill="url(#gSe)"/>
<circle cx="738.1" cy="130.1" r="5.3" fill="url(#gSe)"/>
<circle cx="749.7" cy="130.2" r="5.3" fill="url(#gSe)"/>
<rect x="92.6" y="97.5" width="105.9" height="96.5" rx="1.5" fill="url(#gGold)" filter="url(#fGold)"/><rect x="93.6" y="192" width="103.9" height="2" fill="#a8482c" opacity="0.75"/>
<rect x="283" y="97.5" width="102" height="45.0" rx="1.5" fill="url(#gGold)" filter="url(#fGold)"/><rect x="284" y="140.5" width="100" height="2" fill="#a8482c" opacity="0.75"/>
<polygon points="594.5,120 695.5,120 695.5,111.5 581.5,111.5" fill="url(#gGoldTop)"/>
<rect x="594.5" y="120" width="101.0" height="44.30000000000001" rx="1.5" fill="url(#gGold)" filter="url(#fGold)"/><rect x="595.5" y="162.3" width="99.0" height="2" fill="#a8482c" opacity="0.75"/>
<g stroke="#707070" stroke-width="1.1" fill="none"><line x1="234.7" y1="54.5" x2="231.2" y2="168"/><line x1="465.2" y1="52.3" x2="467.4" y2="96"/><line x1="545" y1="52" x2="567" y2="159.5"/></g>
<g style="font-family:&quot;Liberation Sans&quot;,Arial,sans-serif">
<text x="19" y="58.5" font-size="32" fill="#111">a</text>
<text x="153.6" y="46.7" font-size="30" fill="#111" textLength="141.5" lengthAdjust="spacingAndGlyphs">Graphene</text>
<text x="427.3" y="46.2" font-size="30" fill="#111" textLength="67.2" lengthAdjust="spacingAndGlyphs">WSe</text>
<text x="495" y="46.6" font-size="16" fill="#111">2</text>
<text x="520.2" y="46.2" font-size="30" fill="#111" textLength="72.7" lengthAdjust="spacingAndGlyphs">h-BN</text>
<text x="93.2" y="85.2" font-size="31" fill="#c0393d" textLength="66.2" lengthAdjust="spacingAndGlyphs">SFG</text>
<text x="299.3" y="84.7" font-size="30" fill="#c0393d" textLength="78.7" lengthAdjust="spacingAndGlyphs">Drain</text>
<text x="585.2" y="101" font-size="31" fill="#c0393d" textLength="101.3" lengthAdjust="spacingAndGlyphs">Source</text>
<text x="225.9" y="219.2" font-size="31" fill="#fbeefb" textLength="53.4" lengthAdjust="spacingAndGlyphs">SiO</text>
<text x="278.7" y="219.2" font-size="20" fill="#fbeefb">2</text>
<text x="229" y="258.4" font-size="31" fill="#fbfbfb" textLength="28.5" lengthAdjust="spacingAndGlyphs">Si</text>
</g>
<clipPath id="cpB"><rect x="62.5" y="303" width="297.0" height="288"/></clipPath>
<g clip-path="url(#cpB)">
<g filter="url(#fSpeck)">
<rect x="62.5" y="303" width="297.0" height="288" fill="#878080"/>
<polygon points="62.5,351.0 73.0,345.7 96.0,337.0 176.0,303.0 295.0,303.0 359.5,394.0 359.5,491.3 255.5,480.0 180.0,473.0 62.5,468.0" fill="#afc9bd"/>
<polygon points="96.0,337.0 103.5,336.0 111.0,330.5 118.8,319.6 121.0,303.0 176.0,303.0 190.0,328.0 201.0,354.5 196.0,380.0 194.0,412.0 193.8,471.0 88.0,467.0 94.8,387.0" fill="#c2bbd3"/>
<polygon points="62.5,303.0 98.0,303.0 99.0,335.0 90.0,340.0 73.0,345.7 62.5,351.0" fill="#8c807c"/>
<polygon points="98.0,303.0 121.0,303.0 118.8,319.6 111.0,330.5 103.5,336.0 96.0,337.0 99.0,320.0" fill="#8a6274"/>
<polygon points="294.4,302.0 359.5,302.0 359.5,394.6 346.0,376.0 332.5,362.0 320.5,342.7 310.1,332.3 302.6,320.4" fill="#8a7e7a"/>
<polygon points="62.5,468.0 180.0,471.0 255.5,480.0 359.5,491.3 359.5,591.0 62.5,591.0" fill="#878080"/>
<polygon points="87.6,468.0 186.7,471.0 172.0,591.0 79.6,591.0" fill="#7f6077"/>
<polygon points="110.0,369.2 200.0,355.0 231.9,354.5 234.0,347.0 240.0,341.3 249.0,327.8 256.4,320.4 262.4,318.9 260.1,314.4 250.4,309.9 262.4,309.9 268.3,314.4 269.8,318.9 275.8,321.9 284.7,325.6 290.7,327.8 296.7,328.6 299.7,332.3 305.6,336.8 311.6,341.3 317.6,345.7 323.5,351.7 329.5,357.7 332.5,362.0 346.0,378.0 359.5,397.0 359.5,413.0 200.0,412.0 125.3,411.5" fill="#504e8e"/>
<polygon points="110.0,369.2 200.0,355.0 200.0,412.0 125.3,411.5" fill="#6663a6"/>
<path d="M279.5,345 Q288,352 299.7,354 L307,354" stroke="#a4a2c8" stroke-width="1.6" fill="none" opacity="0.8"/>
</g>
<ellipse cx="128" cy="440" rx="4" ry="3" fill="#2a2a30" opacity="0.35" filter="url(#blur2)"/>
<ellipse cx="133" cy="447" rx="3" ry="2.5" fill="#2a2a30" opacity="0.3" filter="url(#blur2)"/>
<ellipse cx="124" cy="434" rx="2" ry="2" fill="#2a2a30" opacity="0.3" filter="url(#blur1)"/>
<ellipse cx="277" cy="466" rx="5" ry="5.5" fill="#2a2a30" opacity="0.2" filter="url(#blur2)"/>
<ellipse cx="246" cy="337" rx="2" ry="1.5" fill="#2a2a30" opacity="0.4" filter="url(#blur1)"/>
<ellipse cx="252" cy="344" rx="1.5" ry="1.5" fill="#2a2a30" opacity="0.4" filter="url(#blur1)"/>
<ellipse cx="150" cy="341" rx="1.5" ry="1.5" fill="#2a2a30" opacity="0.35" filter="url(#blur1)"/>
<ellipse cx="96" cy="353" rx="1.5" ry="1.2" fill="#2a2a30" opacity="0.4" filter="url(#blur1)"/>
<ellipse cx="84" cy="350" rx="1.2" ry="1.2" fill="#2a2a30" opacity="0.4" filter="url(#blur1)"/>
<ellipse cx="336" cy="445" rx="1.5" ry="1.5" fill="#2a2a30" opacity="0.4" filter="url(#blur1)"/>
<ellipse cx="300" cy="470" rx="1.5" ry="1.2" fill="#2a2a30" opacity="0.3" filter="url(#blur1)"/>
<ellipse cx="232" cy="346" rx="1.5" ry="1.5" fill="#2a2a30" opacity="0.4" filter="url(#blur1)"/>
<ellipse cx="110" cy="446" rx="2.5" ry="1.5" fill="#2a2a30" opacity="0.3" filter="url(#blur1)"/>
<ellipse cx="325" cy="478" rx="1.5" ry="1.5" fill="#2a2a30" opacity="0.35" filter="url(#blur1)"/>
<ellipse cx="345" cy="470" rx="1.2" ry="1.2" fill="#2a2a30" opacity="0.35" filter="url(#blur1)"/>
<ellipse cx="196" cy="410" rx="2" ry="1.5" fill="#2a2a30" opacity="0.4" filter="url(#blur1)"/>
<ellipse cx="240" cy="411" rx="2" ry="1.5" fill="#2a2a30" opacity="0.4" filter="url(#blur1)"/>
<ellipse cx="292" cy="412" rx="1.5" ry="1.5" fill="#2a2a30" opacity="0.4" filter="url(#blur1)"/>
<ellipse cx="184" cy="404" rx="1.5" ry="1.5" fill="#2a2a30" opacity="0.35" filter="url(#blur1)"/>
<g fill="none" stroke-linejoin="round" stroke-linecap="round">
<path d="M164,296 L142,352 L141.3,420" stroke="#dfd9a4" stroke-width="13.0"/>
<path d="M172.8,358.5 L172.8,428 Q174,438 184,443 L250,478 Q256,482 258,490 L277,600" stroke="#dfd9a4" stroke-width="13.5"/>
<path d="M234.8,296 L226,350 L225.8,415.5" stroke="#dfd9a4" stroke-width="13.0"/>
<path d="M256.5,362 L256.8,422 Q258,436 275,438 L300,440.5 L320,444 L370,445" stroke="#dfd9a4" stroke-width="14.5"/>
<path d="M164,296 L142,352 L141.3,420" stroke="#cfc683" stroke-width="10.5"/>
<path d="M172.8,358.5 L172.8,428 Q174,438 184,443 L250,478 Q256,482 258,490 L277,600" stroke="#cfc683" stroke-width="11"/>
<path d="M234.8,296 L226,350 L225.8,415.5" stroke="#cfc683" stroke-width="10.5"/>
<path d="M256.5,362 L256.8,422 Q258,436 275,438 L300,440.5 L320,444 L370,445" stroke="#cfc683" stroke-width="12"/>
</g>
<rect x="55" y="534.2" width="129" height="24.5" rx="1.5" fill="#ecdca4"/>
<rect x="56" y="535.5" width="126.5" height="22" rx="1.5" fill="#dccb8c"/>
<rect x="296" y="567" width="52" height="4" fill="#111"/>
</g>
<g style="font-family:&quot;Liberation Sans&quot;,Arial,sans-serif" font-weight="bold">
<text x="20.5" y="330.5" font-size="32" font-weight="normal" fill="#111">b</text>
<text x="275.9" y="391.6" font-size="17.5" fill="#fff" textLength="37.3" lengthAdjust="spacingAndGlyphs">WSe</text>
<text x="314.4" y="393.8" font-size="12.3" fill="#fff">2</text>
<text x="282.2" y="472.7" font-size="17.2" fill="#161212">h-BN</text>
<text x="96.5" y="510.8" font-size="17.1" fill="#221a1e">graphene</text>
<text x="92.2" y="552.3" font-size="17.1" fill="#221a1e">electrode</text>
<text x="201.6" y="562.7" font-size="16.6" fill="#161212">SiO</text>
<text x="231.3" y="565.3" font-size="13.2" fill="#161212">2</text>
</g>
<line x1="478.1" y1="438.5" x2="784.7" y2="438.5" stroke="#b0b0b0" stroke-width="1.1"/>
<line x1="631.4" y1="304.8" x2="631.4" y2="572.1" stroke="#b0b0b0" stroke-width="1.1"/>
<path d="M478.10,565.19 L479.63,561.92 L481.17,558.70 L482.70,555.54 L484.23,552.43 L485.77,549.37 L487.30,546.37 L488.83,543.41 L490.36,540.51 L491.90,537.66 L493.43,534.86 L494.96,532.11 L496.50,529.41 L498.03,526.77 L499.56,524.17 L501.10,521.62 L502.63,519.12 L504.16,516.67 L505.69,514.27 L507.23,511.92 L508.76,509.62 L510.29,507.36 L511.83,505.15 L513.36,502.99 L514.89,500.88 L516.43,498.81 L517.96,496.79 L519.49,494.81 L521.02,492.88 L522.56,490.99 L524.09,489.15 L525.62,487.35 L527.16,485.59 L528.69,483.88 L530.22,482.21 L531.75,480.58 L533.29,478.99 L534.82,477.45 L536.35,475.94 L537.89,474.47 L539.42,473.05 L540.95,471.66 L542.49,470.31 L544.02,469.00 L545.55,467.73 L547.09,466.50 L548.62,465.30 L550.15,464.14 L551.68,463.01 L553.22,461.91 L554.75,460.86 L556.28,459.83 L557.82,458.84 L559.35,457.88 L560.88,456.95 L562.42,456.06 L563.95,455.19 L565.48,454.36 L567.01,453.55 L568.55,452.78 L570.08,452.03 L571.61,451.31 L573.15,450.62 L574.68,449.95 L576.21,449.31 L577.75,448.70 L579.28,448.10 L580.81,447.54 L582.34,446.99 L583.88,446.47 L585.41,445.98 L586.94,445.50 L588.48,445.04 L590.01,444.60 L591.54,444.19 L593.08,443.79 L594.61,443.41 L596.14,443.05 L597.67,442.70 L599.21,442.37 L600.74,442.05 L602.27,441.75 L603.81,441.46 L605.34,441.19 L606.87,440.93 L608.40,440.68 L609.94,440.44 L611.47,440.21 L613.00,439.99 L614.54,439.78 L616.07,439.58 L617.60,439.39 L619.14,439.20 L620.67,439.02 L622.20,438.84 L623.74,438.67 L625.27,438.50 L626.80,438.34 L628.33,438.17 L629.87,438.01 L631.40,437.85 L632.93,437.69 L634.47,437.53 L636.00,437.37 L637.53,437.21 L639.07,437.04 L640.60,436.87 L642.13,436.70 L643.66,436.52 L645.20,436.33 L646.73,436.14 L648.26,435.95 L649.80,435.74 L651.33,435.52 L652.86,435.30 L654.39,435.06 L655.93,434.82 L657.46,434.56 L658.99,434.29 L660.53,434.01 L662.06,433.71 L663.59,433.40 L665.13,433.08 L666.66,432.73 L668.19,432.38 L669.73,432.00 L671.26,431.60 L672.79,431.19 L674.32,430.76 L675.86,430.30 L677.39,429.83 L678.92,429.33 L680.46,428.81 L681.99,428.27 L683.52,427.70 L685.06,427.11 L686.59,426.49 L688.12,425.85 L689.65,425.18 L691.19,424.48 L692.72,423.75 L694.25,423.00 L695.79,422.22 L697.32,421.40 L698.85,420.55 L700.38,419.68 L701.92,418.77 L703.45,417.82 L704.98,416.84 L706.52,415.83 L708.05,414.79 L709.58,413.70 L711.12,412.58 L712.65,411.43 L714.18,410.23 L715.72,409.00 L717.25,407.73 L718.78,406.42 L720.31,405.06 L721.85,403.67 L723.38,402.24 L724.91,400.76 L726.45,399.24 L727.98,397.68 L729.51,396.07 L731.05,394.42 L732.58,392.72 L734.11,390.97 L735.64,389.18 L737.18,387.35 L738.71,385.46 L740.24,383.53 L741.78,381.54 L743.31,379.51 L744.84,377.43 L746.38,375.30 L747.91,373.11 L749.44,370.88 L750.97,368.59 L752.51,366.25 L754.04,363.86 L755.57,361.41 L757.11,358.91 L758.64,356.35 L760.17,353.74 L761.71,351.07 L763.24,348.35 L764.77,345.57 L766.30,342.73 L767.84,339.84 L769.37,336.88 L770.90,333.87 L772.44,330.80 L773.97,327.67 L775.50,324.48 L777.04,321.23 L778.57,317.92 L780.10,314.54 L781.63,311.11 L783.17,307.61 L784.70,304.80" fill="none" stroke="#a94244" stroke-width="1.9" stroke-linejoin="round"/>
<rect x="478.1" y="304.8" width="306.6" height="267.3" fill="none" stroke="#1a1a1a" stroke-width="1.8"/>
<g stroke="#1a1a1a" stroke-width="1.6"><line x1="478.1" y1="572.1" x2="478.1" y2="578.1"/><line x1="554.8" y1="572.1" x2="554.8" y2="578.1"/><line x1="631.4" y1="572.1" x2="631.4" y2="578.1"/><line x1="708.1" y1="572.1" x2="708.1" y2="578.1"/><line x1="784.7" y1="572.1" x2="784.7" y2="578.1"/><line x1="516.4" y1="572.1" x2="516.4" y2="576.1"/><line x1="593.1" y1="572.1" x2="593.1" y2="576.1"/><line x1="669.7" y1="572.1" x2="669.7" y2="576.1"/><line x1="746.4" y1="572.1" x2="746.4" y2="576.1"/><line x1="472.1" y1="527.6" x2="478.1" y2="527.6"/><line x1="472.1" y1="438.5" x2="478.1" y2="438.5"/><line x1="472.1" y1="349.4" x2="478.1" y2="349.4"/><line x1="474.1" y1="483.0" x2="478.1" y2="483.0"/><line x1="474.1" y1="393.9" x2="478.1" y2="393.9"/></g>
<g style="font-family:&quot;Liberation Sans&quot;,Arial,sans-serif" font-size="18.8" fill="#222"><text x="478.1" y="595.9" text-anchor="middle">-1.0</text><text x="554.8" y="595.9" text-anchor="middle">-0.5</text><text x="631.4" y="595.9" text-anchor="middle">0.0</text><text x="708.1" y="595.9" text-anchor="middle">0.5</text><text x="784.7" y="595.9" text-anchor="middle">1.0</text><text x="469.3" y="356.1" text-anchor="end">20</text><text x="469.3" y="445.2" text-anchor="end">0</text><text x="469.3" y="534.3" text-anchor="end">-20</text></g>
<g style="font-family:&quot;Liberation Sans&quot;,Arial,sans-serif" fill="#222">
<text x="608.6" y="623.1" font-size="22" font-style="italic">V</text>
<text x="622.6" y="629.6" font-size="11.2" textLength="14.6" lengthAdjust="spacingAndGlyphs">DS</text>
<text x="644.8" y="623.1" font-size="22" textLength="31" lengthAdjust="spacingAndGlyphs">(V)</text>
<g transform="translate(433,463.5) rotate(-90)"><text x="0" y="0" font-size="22" font-style="italic">I</text>
<text x="6.0" y="6.6" font-size="11.2">D</text>
<text x="21.2" y="0" font-size="22" textLength="42" lengthAdjust="spacingAndGlyphs">(nA)</text></g>
<text x="410.5" y="330.6" font-size="32" fill="#111">c</text>
</g>
<rect x="515.4" y="324.1" width="102.30000000000007" height="82.69999999999999" fill="#fff" stroke="#7a7a7a" stroke-width="1.6"/>
<path d="M515.4,404.9 C517.3,402.7 523.2,395.5 526.6,391.8 C530.0,388.1 532.9,385.1 536.0,382.5 C539.1,379.9 542.2,378.0 545.3,376.0 C548.4,374.0 551.0,372.9 554.6,370.4 C558.2,367.9 563.1,363.6 566.8,361.0 C570.5,358.4 573.4,356.5 577.0,354.5 C580.6,352.5 584.5,351.1 588.2,348.9 C591.9,346.7 596.0,343.7 599.4,341.5 C602.8,339.3 605.7,338.2 608.7,335.9 C611.8,333.6 616.2,328.9 617.7,327.5" fill="none" stroke="#b04446" stroke-width="1.4"/>
<g style="font-family:&quot;Liberation Sans&quot;,Arial,sans-serif" font-size="9" font-weight="bold" fill="#505050"><text x="515.9" y="417.4" text-anchor="middle">-0.2</text><text x="541.1" y="417.4" text-anchor="middle">-0.1</text><text x="566.8" y="417.4" text-anchor="middle">0.0</text><text x="591.5" y="417.4" text-anchor="middle">0.1</text><text x="616.7" y="417.4" text-anchor="middle">0.2</text><text x="512.8" y="347.6" text-anchor="end">0.5</text><text x="512.8" y="368.5" text-anchor="end">0.0</text><text x="512.8" y="389" text-anchor="end">-0.5</text></g>
<g style="font-family:&quot;Liberation Sans&quot;,Arial,sans-serif" fill="#555">
<text x="551.5" y="431.5" font-size="10"><tspan font-style="italic">V</tspan><tspan font-size="6" dy="2">DS</tspan><tspan dy="-2" dx="2">(V)</tspan></text>
<text transform="translate(493.5,380) rotate(-90)" font-size="10"><tspan font-style="italic">I</tspan><tspan font-size="6" dy="2">D</tspan><tspan dy="-2" dx="2">(nA)</tspan></text>
</g>
</svg>
</body></html>
